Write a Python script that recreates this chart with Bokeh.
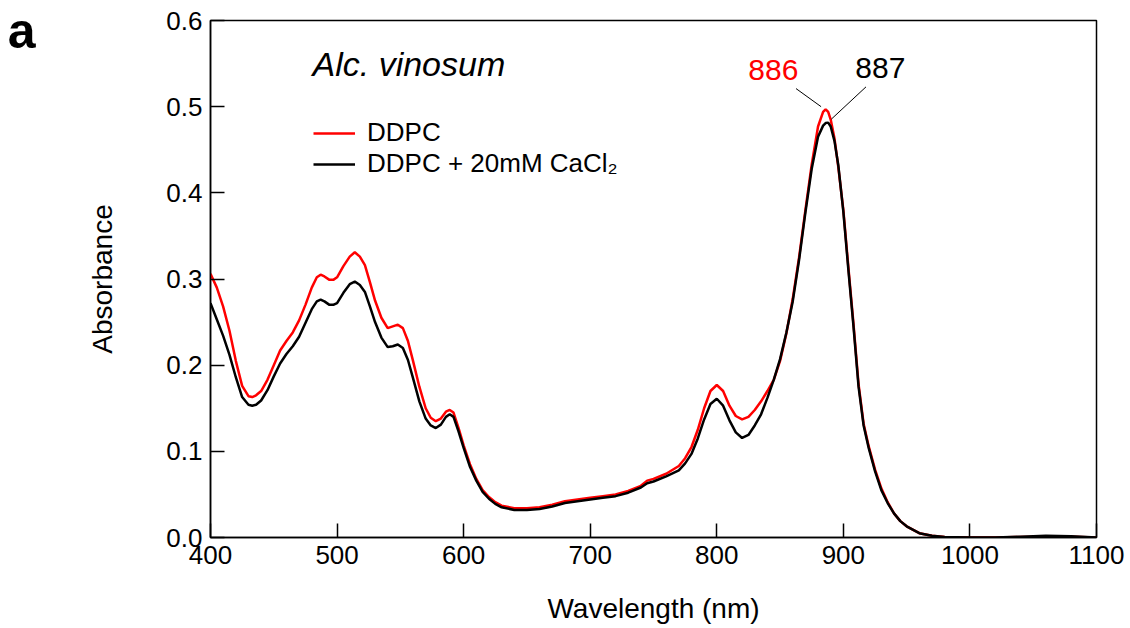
from bokeh.plotting import figure
from bokeh.models import (Label, Range1d, FixedTicker, NumeralTickFormatter, LinearAxis,
                          Legend, LegendItem, Arrow, ColumnDataSource)
from bokeh.embed import file_html
from bokeh.resources import INLINE

wavelength = [400, 405, 410, 415, 420, 425, 430, 433, 436, 440, 445, 450, 455, 460, 465, 470,
              475, 480, 484, 487, 490, 494, 497, 500, 505, 510, 514, 518, 522, 526, 530, 535,
              540, 544, 548, 552, 556, 560, 565, 570, 574, 578, 582, 586, 589, 592, 596, 600,
              605, 610, 615, 620, 625, 630, 640, 650, 660, 670, 680, 690, 700, 710, 720, 730,
              740, 745, 750, 760, 770, 775, 780, 785, 790, 795, 800, 805, 810, 815, 820, 825,
              830, 835, 840, 845, 850, 855, 860, 865, 870, 875, 880, 884, 886, 888, 890, 893,
              896, 900, 904, 908, 912, 916, 920, 925, 930, 935, 940, 945, 950, 960, 970, 980,
              1000, 1020, 1040, 1060, 1080, 1100]

ddpc = [0.306, 0.290, 0.268, 0.240, 0.205, 0.176, 0.164, 0.163, 0.165, 0.170, 0.183, 0.200,
        0.217, 0.228, 0.238, 0.252, 0.270, 0.290, 0.302, 0.305, 0.303, 0.299, 0.299, 0.302,
        0.315, 0.326, 0.331, 0.326, 0.316, 0.296, 0.275, 0.255, 0.243, 0.245, 0.247, 0.243,
        0.228, 0.205, 0.175, 0.150, 0.139, 0.135, 0.138, 0.146, 0.148, 0.145, 0.127, 0.107,
        0.085, 0.068, 0.055, 0.047, 0.041, 0.037, 0.034, 0.034, 0.035, 0.038, 0.042, 0.044,
        0.046, 0.048, 0.050, 0.054, 0.060, 0.066, 0.068, 0.074, 0.083, 0.092, 0.105, 0.125,
        0.150, 0.170, 0.177, 0.170, 0.153, 0.141, 0.137, 0.140, 0.148, 0.158, 0.170, 0.183,
        0.205, 0.237, 0.277, 0.325, 0.380, 0.433, 0.477, 0.494, 0.497, 0.494, 0.485, 0.463,
        0.430, 0.380, 0.313, 0.248, 0.178, 0.132, 0.106, 0.079, 0.057, 0.041, 0.028, 0.019,
        0.013, 0.005, 0.002, 0.0005, 0.0, 0.0, 0.0005, 0.001, 0.001, 0.0]

ddpc_cacl2 = [0.272, 0.253, 0.234, 0.212, 0.186, 0.163, 0.154, 0.153, 0.154, 0.159, 0.171, 0.187,
              0.202, 0.213, 0.222, 0.233, 0.249, 0.265, 0.274, 0.276, 0.274, 0.270, 0.270, 0.272,
              0.284, 0.294, 0.297, 0.293, 0.285, 0.268, 0.250, 0.232, 0.221, 0.222, 0.224, 0.220,
              0.206, 0.185, 0.158, 0.138, 0.130, 0.127, 0.131, 0.140, 0.143, 0.140, 0.123, 0.104,
              0.082, 0.066, 0.053, 0.045, 0.039, 0.035, 0.032, 0.032, 0.033, 0.036, 0.040, 0.042,
              0.044, 0.046, 0.048, 0.052, 0.058, 0.063, 0.065, 0.071, 0.078, 0.086, 0.097, 0.115,
              0.137, 0.155, 0.161, 0.153, 0.136, 0.122, 0.1155, 0.119, 0.130, 0.143, 0.162, 0.183,
              0.207, 0.238, 0.274, 0.322, 0.377, 0.428, 0.465, 0.478, 0.481, 0.4815, 0.477, 0.460,
              0.432, 0.378, 0.310, 0.245, 0.175, 0.130, 0.104, 0.077, 0.055, 0.040, 0.028, 0.019,
              0.013, 0.005, 0.002, 0.0005, 0.0, 0.0, 0.001, 0.002, 0.0015, 0.0]

x_ticks = [400, 500, 600, 700, 800, 900, 1000, 1100]
y_ticks = [0.0, 0.1, 0.2, 0.3, 0.4, 0.5, 0.6]
series_names = ["DDPC", "DDPC + 20mM CaCl\u2082"]
peak_labels = ["886", "887"]
panel_letter = "a"

FONT = "Liberation Sans"

src = ColumnDataSource(data=dict(wl=wavelength, a=ddpc, b=ddpc_cacl2))

p = figure(width=1130, height=628, output_backend="svg", toolbar_location=None,
           x_range=Range1d(400, 1100), y_range=Range1d(0, 0.6),
           min_border_left=210, min_border_right=34, min_border_top=20, min_border_bottom=91)
p.background_fill_color = "white"
p.border_fill_color = "white"
p.outline_line_color = "black"
p.outline_line_width = 1.5
p.grid.visible = False

r1 = p.line("wl", "a", source=src, line_color="#ff0000", line_width=2.5)
r2 = p.line("wl", "b", source=src, line_color="black", line_width=2.5)

for ax in (p.xaxis[0], p.yaxis[0]):
    ax.axis_line_width = 1.5
    ax.major_tick_line_width = 1.5
    ax.major_tick_in = 14
    ax.major_tick_out = 0
    ax.minor_tick_in = 0
    ax.minor_tick_out = 0
    ax.major_label_text_font = FONT
    ax.major_label_text_font_size = "26px"
    ax.major_label_text_color = "black"
    ax.axis_label_text_font = FONT
    ax.axis_label_text_font_size = "28px"
    ax.axis_label_text_font_style = "normal"
    ax.axis_label_text_color = "black"

p.xaxis.ticker = FixedTicker(ticks=x_ticks)
p.yaxis.ticker = FixedTicker(ticks=y_ticks)
p.yaxis.formatter = NumeralTickFormatter(format="0.0")
p.xaxis.axis_label = "Wavelength (nm)"
p.yaxis.axis_label = "Absorbance"
p.xaxis.major_label_standoff = 8
p.yaxis.major_label_standoff = 8
p.xaxis.axis_label_standoff = 26
p.yaxis.axis_label_standoff = 45

# panel letter drawn as the single label of an invisible outer left axis
letter_pos = 0.588
letter_axis = LinearAxis(ticker=FixedTicker(ticks=[letter_pos]),
                         major_label_overrides={letter_pos: panel_letter},
                         axis_line_alpha=0, major_tick_in=0, major_tick_out=0,
                         minor_tick_in=0, minor_tick_out=0,
                         major_label_standoff=49,
                         major_label_text_font=FONT, major_label_text_font_size="50px",
                         major_label_text_font_style="bold", major_label_text_color="black")
p.add_layout(letter_axis, "left")

legend = Legend(items=[LegendItem(label=series_names[0], renderers=[r1]),
                       LegendItem(label=series_names[1], renderers=[r2])],
                location=(103, 358), orientation="vertical",
                background_fill_alpha=0, border_line_alpha=0,
                glyph_width=42, glyph_height=26, label_height=26,
                label_text_font=FONT, label_text_font_size="26px",
                label_text_color="black",
                label_standoff=12, padding=0, spacing=-2, margin=0)
p.add_layout(legend)

p.add_layout(Label(x=480.6, y=0.549, text="Alc. vinosum", text_font=FONT,
                   text_font_size="34px", text_font_style="italic", text_color="black",
                   text_baseline="alphabetic", text_align="left"))

# peak annotations derived from peak maxima
ia = ddpc.index(max(ddpc))
ib = ddpc_cacl2.index(max(ddpc_cacl2))
pa = (wavelength[ia], ddpc[ia])
pb = (wavelength[ib], ddpc_cacl2[ib])

p.add_layout(Label(x=844.7, y=0.5425, text=peak_labels[0], text_font=FONT,
                   text_font_size="30px", text_color="#ff0000",
                   text_align="center", text_baseline="alphabetic"))
p.add_layout(Label(x=929.2, y=0.5445, text=peak_labels[1], text_font=FONT,
                   text_font_size="30px", text_color="black",
                   text_align="center", text_baseline="alphabetic"))
p.add_layout(Arrow(end=None, x_start=pa[0] - 23.4, y_start=pa[1] + 0.024,
                   x_end=pa[0] - 3.6, y_end=pa[1] + 0.003,
                   line_color="black", line_width=1))
p.add_layout(Arrow(end=None, x_start=pb[0] + 29.9, y_start=pb[1] + 0.0415,
                   x_end=pb[0] + 2.5, y_end=pb[1] + 0.004,
                   line_color="black", line_width=1))

open("out.html", "w").write(file_html(p, INLINE))
